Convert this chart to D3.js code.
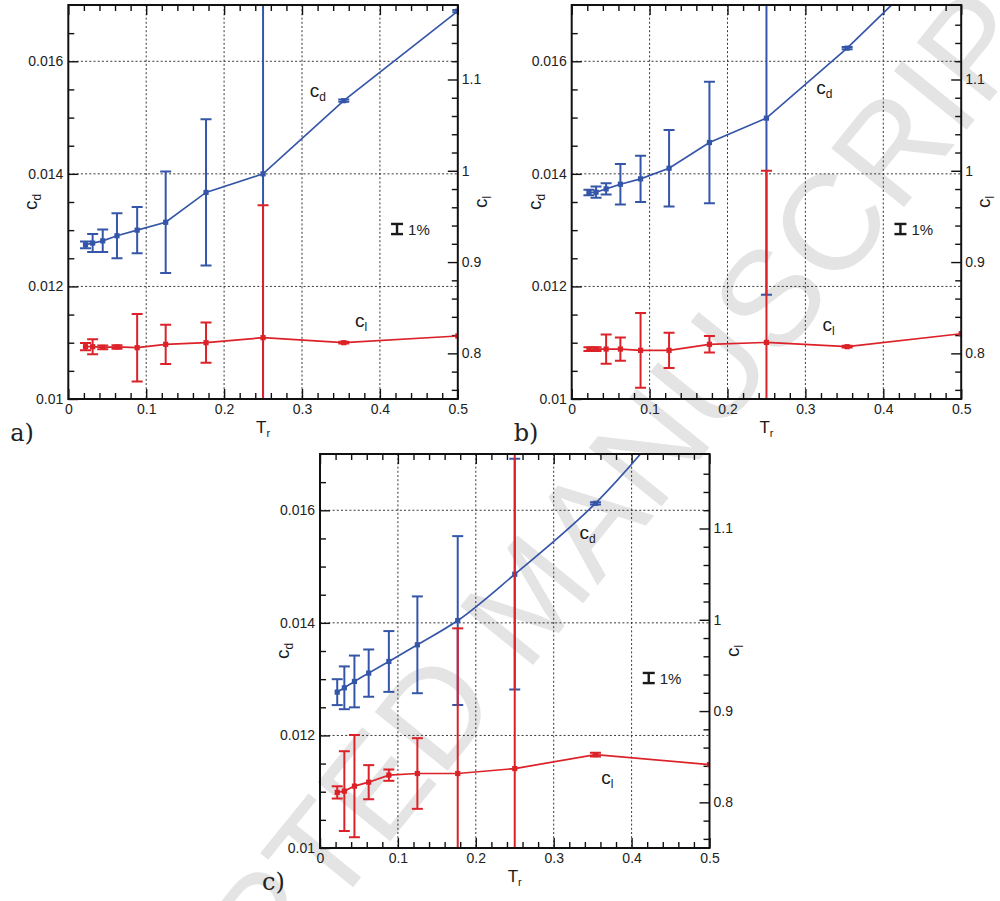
<!DOCTYPE html>
<html><head><meta charset="utf-8">
<script src="https://cdn.jsdelivr.net/npm/d3@7"></script>
<style>
body{margin:0;background:#fff}
svg{display:block}
</style>
</head><body>
<svg id="chart" width="1000" height="901"></svg>
<script>
// ---------- data ----------
const TR = [0.0221, 0.03125, 0.0442, 0.0625, 0.0884, 0.125, 0.1768, 0.25, 0.3536, 0.5];

const cdA    = [0.01274, 0.01277, 0.01281, 0.01290, 0.01300, 0.01314, 0.01367, 0.01400, 0.01530, 0.01689];
const cdErrA = [0.00006, 0.00016, 0.00020, 0.00040, 0.00041, 0.00090, 0.00130, 0.00400, 0.00002, 0.00002];
const clA    = [0.8073, 0.8073, 0.8066, 0.8070, 0.8062, 0.8099, 0.8117, 0.8172, 0.8117, 0.8190];
const clErrA = [0.0040, 0.0082, 0.0020, 0.0020, 0.0370, 0.0215, 0.0220, 0.1450, 0.0010, 0];

const cdB    = [0.013668, 0.013674, 0.013733, 0.013816, 0.013911, 0.01410, 0.014557, 0.01499, 0.016234, 0.01820];
const cdErrB = [0.00005, 0.00010, 0.00010, 0.00036, 0.00041, 0.00068, 0.00108, 0.00314, 0.00002, 0];
const clB    = [0.8047, 0.8047, 0.8047, 0.8047, 0.8033, 0.8033, 0.8099, 0.8120, 0.8073, 0.8215];
const clErrB = [0.0020, 0.0020, 0.0160, 0.0128, 0.0410, 0.0193, 0.0090, 0.1880, 0.0010, 0];

const cdC    = [0.012769, 0.012846, 0.012959, 0.013107, 0.013314, 0.01361, 0.014041, 0.014864, 0.016124, 0.01852];
const cdErrC = [0.00023, 0.00038, 0.00046, 0.00042, 0.00054, 0.00086, 0.00150, 0.00205, 0.00002, 0];
const clC    = [0.8109, 0.8123, 0.8178, 0.8221, 0.8298, 0.8316, 0.8316, 0.8370, 0.8523, 0.8414];
const clErrC = [0.0067, 0.0437, 0.0560, 0.0187, 0.0062, 0.0387, 0.1590, 0.4000, 0.0020, 0];

const xTicks  = [0, 0.1, 0.2, 0.3, 0.4, 0.5];
const xTickLabels = ["0", "0.1", "0.2", "0.3", "0.4", "0.5"];
const cdTicks = [0.01, 0.012, 0.014, 0.016];
const cdTickLabels = ["0.01", "0.012", "0.014", "0.016"];
const clTicks = [0.8, 0.9, 1, 1.1];
const clTickLabels = ["0.8", "0.9", "1", "1.1"];
const gridX = [0.1, 0.2, 0.3, 0.4];
const gridY = [0.012, 0.014, 0.016];

const panelNames = ["a)", "b)", "c)"];
// label anchor positions in data units [T_r, c_d]
const cdLabelPos = [[0.310, 0.01537], [0.314, 0.01542], [0.333, 0.01549]];
const clLabelPos = [[0.368, 0.01128], [0.322, 0.01121], [0.361, 0.01114]];
const refBar = {t: 0.422, cd: 0.01302, half: 0.00009, text: "1%"};
const watermark = "ACCEPTED MANUSCRIPT";

// ---------- layout / style ----------
const W = 389.5, H = 394;
const origins = [[68.3, 5], [571.7, 5], [320, 454]];
const BLUE = "#3556a8", RED = "#dc2229";
const SANS = "'Liberation Sans', Arial, Helvetica, sans-serif";
const SERIF = "'DejaVu Serif', 'Liberation Serif', serif";

const svg = d3.select("#chart").style("font-family", SANS);
svg.append("rect").attr("width", 1000).attr("height", 901).attr("fill", "#fff");

// watermark
svg.append("text")
  .attr("transform", "translate(526,596) rotate(-51)")
  .attr("text-anchor", "middle").attr("dy", "0.36em")
  .attr("font-size", 136).attr("fill", "#e4e4e4")
  .text(watermark);

const x = d3.scaleLinear().domain([0, 0.5]).range([0, W]);
const yL = d3.scaleLinear().domain([0.01, 0.017]).range([H, 0]);
const yR = d3.scaleLinear().domain([0.75, 1.1816]).range([H, 0]);

const minorX = d3.range(0.02, 0.5, 0.02).filter(v => Math.abs(v * 10 - Math.round(v * 10)) > 1e-6);
const minorL = d3.range(0.0105, 0.017, 0.0005).filter(v => Math.abs(v * 500 - Math.round(v * 500)) > 1e-6);
const minorR = d3.range(0.76, 1.18, 0.02).filter(v => Math.abs(v * 10 - Math.round(v * 10)) > 1e-6);

const panels = [
  {cd: cdA, cdErr: cdErrA, cl: clA, clErr: clErrA, curve: d3.curveLinear},
  {cd: cdB, cdErr: cdErrB, cl: clB, clErr: clErrB, curve: d3.curveLinear},
  {cd: cdC, cdErr: cdErrC, cl: clC, clErr: clErrC, curve: d3.curveMonotoneX}
];

function styleAxis(g) {
  g.select(".domain").remove();
  g.selectAll(".tick line").attr("stroke", "#111").attr("stroke-width", 1.4);
  g.attr("font-family", null).attr("font-size", null);
  g.selectAll("text").attr("font-size", 14).attr("fill", "#222");
}

panels.forEach((p, i) => {
  const [ox, oy] = origins[i];
  const g = svg.append("g").attr("transform", `translate(${ox},${oy})`);
  const clipId = "clip" + i;
  g.append("clipPath").attr("id", clipId).append("rect").attr("width", W).attr("height", H);

  // grid
  g.append("g").selectAll("line").data(gridX).join("line")
    .attr("x1", d => x(d)).attr("x2", d => x(d)).attr("y1", 0).attr("y2", H)
    .attr("stroke", "#222").attr("stroke-width", 0.9).attr("stroke-dasharray", "2,2.2");
  g.append("g").selectAll("line").data(gridY).join("line")
    .attr("y1", d => yL(d)).attr("y2", d => yL(d)).attr("x1", 0).attr("x2", W)
    .attr("stroke", "#222").attr("stroke-width", 0.9).attr("stroke-dasharray", "2,2.2");

  // axes
  g.append("g").attr("transform", `translate(0,${H})`)
    .call(d3.axisBottom(x).tickValues(xTicks).tickSize(-10).tickPadding(5)
      .tickFormat((d, k) => xTickLabels[k])).call(styleAxis);
  g.append("g").attr("transform", `translate(0,${H})`)
    .call(d3.axisBottom(x).tickValues(minorX).tickSize(-6).tickFormat("")).call(styleAxis);
  g.append("g")
    .call(d3.axisTop(x).tickValues(xTicks).tickSize(-10).tickFormat("")).call(styleAxis);
  g.append("g")
    .call(d3.axisTop(x).tickValues(minorX).tickSize(-6).tickFormat("")).call(styleAxis);
  g.append("g")
    .call(d3.axisLeft(yL).tickValues(cdTicks).tickSize(-10).tickPadding(5)
      .tickFormat((d, k) => cdTickLabels[k])).call(styleAxis);
  g.append("g")
    .call(d3.axisLeft(yL).tickValues(minorL).tickSize(-6).tickFormat("")).call(styleAxis);
  g.append("g").attr("transform", `translate(${W},0)`)
    .call(d3.axisRight(yR).tickValues(clTicks).tickSize(-10).tickPadding(4)
      .tickFormat((d, k) => clTickLabels[k])).call(styleAxis);
  g.append("g").attr("transform", `translate(${W},0)`)
    .call(d3.axisRight(yR).tickValues(minorR).tickSize(-6).tickFormat("")).call(styleAxis);

  const plot = g.append("g").attr("clip-path", `url(#${clipId})`);

  const series = [
    {vals: p.cd, errs: p.cdErr, y: yL, color: BLUE, curve: p.curve},
    {vals: p.cl, errs: p.clErr, y: yR, color: RED, curve: d3.curveLinear}
  ];
  series.forEach(s => {
    const pts = TR.map((t, k) => ({t, v: s.vals[k], e: s.errs[k]}));
    plot.append("path").datum(pts)
      .attr("fill", "none").attr("stroke", s.color).attr("stroke-width", 1.7)
      .attr("d", d3.line().x(d => x(d.t)).y(d => s.y(d.v)).curve(s.curve));
    const eb = plot.append("g").attr("stroke", s.color).attr("stroke-width", 2);
    pts.filter(d => d.e > 0).forEach(d => {
      const cx = x(d.t), y1 = s.y(d.v - d.e), y2 = s.y(d.v + d.e);
      eb.append("line").attr("x1", cx).attr("x2", cx).attr("y1", y1).attr("y2", y2);
      eb.append("line").attr("x1", cx - 5.5).attr("x2", cx + 5.5).attr("y1", y1).attr("y2", y1);
      eb.append("line").attr("x1", cx - 5.5).attr("x2", cx + 5.5).attr("y1", y2).attr("y2", y2);
    });
    plot.append("g").selectAll("rect").data(pts).join("rect")
      .attr("x", d => x(d.t) - 2.6).attr("y", d => s.y(d.v) - 2.6)
      .attr("width", 5.2).attr("height", 5.2).attr("fill", s.color);
  });

  // frame
  g.append("rect").attr("width", W).attr("height", H)
    .attr("fill", "none").attr("stroke", "#111").attr("stroke-width", 2);

  // reference 1% bar
  const rx = x(refBar.t), ry1 = yL(refBar.cd - refBar.half), ry2 = yL(refBar.cd + refBar.half);
  const rb = g.append("g").attr("stroke", "#1a1a1a").attr("stroke-width", 2.4);
  rb.append("line").attr("x1", rx).attr("x2", rx).attr("y1", ry1).attr("y2", ry2);
  rb.append("line").attr("x1", rx - 6).attr("x2", rx + 6).attr("y1", ry1).attr("y2", ry1);
  rb.append("line").attr("x1", rx - 6).attr("x2", rx + 6).attr("y1", ry2).attr("y2", ry2);
  g.append("text").attr("x", rx + 11).attr("y", yL(refBar.cd) + 5.5)
    .attr("font-size", 15).attr("fill", "#222").text(refBar.text);

  // in-plot series labels
  function subLabel(parent, pos, main, sub) {
    const t = parent.append("text").attr("x", x(pos[0])).attr("y", yL(pos[1])).attr("fill", "#1a1a1a");
    t.append("tspan").attr("font-size", 19).text(main);
    t.append("tspan").attr("font-size", 12).attr("dy", 4).text(sub);
  }
  subLabel(g, cdLabelPos[i], "c", "d");
  subLabel(g, clLabelPos[i], "c", "l");

  // axis titles
  const tl = g.append("text").attr("transform", `translate(-31,${H / 2}) rotate(-90)`)
    .attr("text-anchor", "middle").attr("fill", "#1a1a1a");
  tl.append("tspan").attr("font-size", 19).text("c");
  tl.append("tspan").attr("font-size", 12).attr("dy", 4).text("d");

  const tr = g.append("text").attr("transform", `translate(${W + 29},${H / 2}) rotate(-90)`)
    .attr("text-anchor", "middle").attr("fill", "#1a1a1a");
  tr.append("tspan").attr("font-size", 19).text("c");
  tr.append("tspan").attr("font-size", 12).attr("dy", 4).text("l");

  const tb = g.append("text").attr("transform", `translate(${W / 2},${H + 34})`)
    .attr("text-anchor", "middle").attr("fill", "#1a1a1a");
  tb.append("tspan").attr("font-size", 17).text("T");
  tb.append("tspan").attr("font-size", 11).attr("dy", 4).text("r");

  // panel letter
  g.append("text").attr("x", -58).attr("y", H + 42)
    .style("font-family", SERIF)
    .attr("font-size", 24).attr("fill", "#222").text(panelNames[i]);
});
</script>
</body></html>
